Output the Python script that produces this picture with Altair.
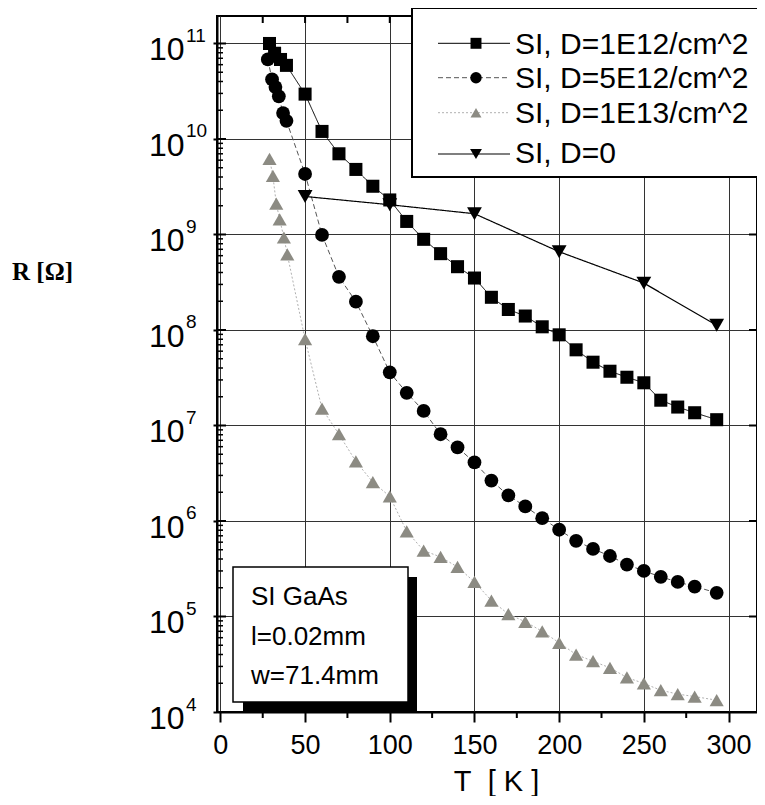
import altair as alt
import pandas as pd

# ---------------- data ----------------
series_names = ["SI, D=1E12/cm^2", "SI, D=5E12/cm^2", "SI, D=1E13/cm^2", "SI, D=0"]

T_d1e12 = [29, 32, 35.5, 39, 50, 60, 70, 80, 90, 100, 110, 120, 130, 140, 150,
           160, 170, 180, 190, 200, 210, 220, 230, 240, 250, 260, 270, 280, 293]
R_d1e12 = [1.0e11, 7.9e10, 6.8e10, 5.9e10, 2.95e10, 1.2e10, 7.0e9, 4.8e9, 3.2e9,
           2.3e9, 1.37e9, 8.9e8, 6.3e8, 4.6e8, 3.5e8, 2.2e8, 1.64e8, 1.4e8,
           1.08e8, 8.9e7, 6.2e7, 4.6e7, 3.7e7, 3.2e7, 2.8e7, 1.84e7, 1.56e7,
           1.36e7, 1.15e7]

T_d5e12 = [28, 30.5, 32.5, 34.5, 37, 39, 50, 60, 70, 80, 90, 100, 110, 120, 130,
           140, 150, 160, 170, 180, 190, 200, 210, 220, 230, 240, 250, 260, 270,
           280, 293]
R_d5e12 = [6.8e10, 4.2e10, 3.5e10, 2.8e10, 1.87e10, 1.55e10, 4.3e9, 9.9e8, 3.6e8,
           1.98e8, 8.6e7, 3.6e7, 2.2e7, 1.42e7, 8.1e6, 5.9e6, 4.1e6, 2.65e6,
           1.85e6, 1.42e6, 1.07e6, 8.1e5, 6.2e5, 5.1e5, 4.3e5, 3.5e5, 3.0e5,
           2.6e5, 2.3e5, 2.06e5, 1.77e5]

T_d1e13 = [29, 31, 33, 35, 37.5, 39.5, 50, 60, 70, 80, 90, 100, 110, 120, 130,
           140, 150, 160, 170, 180, 190, 200, 210, 220, 230, 240, 250, 260, 270,
           280, 293]
R_d1e13 = [6.2e9, 4.1e9, 2.1e9, 1.44e9, 9.3e8, 6.2e8, 8.0e7, 1.5e7, 8.1e6, 4.2e6,
           2.55e6, 1.81e6, 7.8e5, 4.9e5, 4.2e5, 3.3e5, 2.3e5, 1.47e5, 1.06e5,
           8.8e4, 7.0e4, 5.3e4, 4.0e4, 3.4e4, 2.9e4, 2.3e4, 1.99e4, 1.69e4,
           1.54e4, 1.45e4, 1.33e4]

T_d0 = [50, 100, 150, 200, 250, 293]
R_d0 = [2.5e9, 2.05e9, 1.65e9, 6.6e8, 3.1e8, 1.12e8]

x_tick_values = [0, 50, 100, 150, 200, 250, 300]
x_minor_values = [25, 75, 125, 175, 225, 275]
x_top_values = [25, 50, 75, 100, 125, 150, 175, 200, 225, 250, 275, 300]
y_decades = [1e4, 1e5, 1e6, 1e7, 1e8, 1e9, 1e10, 1e11]
y_mantissa = ["10"] * 8
y_exponents = ["4", "5", "6", "7", "8", "9", "10", "11"]
y_minor = [k * 10.0 ** d for d in range(4, 11) for k in range(2, 10)]
box_lines = ["SI GaAs", "l=0.02mm", "w=71.4mm"]
x_title = "T\u00a0\u00a0[ K ]"
y_title = "R [Ω]"

# ---------------- layout ----------------
W, H = 540, 696
xscale = alt.Scale(domain=[-2, 316.8], nice=False, zero=False)
yscale = alt.Scale(type="log", domain=[1e4, 1.94e11], nice=False)

FONT = "Liberation Sans"

xaxis = alt.Axis(values=x_tick_values, grid=True, gridColor="#333", gridWidth=1,
                 domain=True, domainColor="black", domainWidth=2,
                 ticks=True, tickSize=10, tickWidth=2, tickColor="black",
                 labelFont=FONT, labelFontSize=27, labelColor="black",
                 labelPadding=10, labelFlush=False,
                 title=x_title, titleFont=FONT, titleFontSize=29,
                 titleFontWeight="normal", titleColor="black",
                 titleX=279, titleY=78, titleBaseline="alphabetic",
                 titleAlign="center")
yaxis = alt.Axis(values=y_decades, grid=True, gridColor="#333", gridWidth=1,
                 labels=False, domain=True, domainColor="black", domainWidth=2,
                 ticks=True, tickSize=4, tickWidth=2, tickColor="black",
                 title="")


def X(field):
    return alt.X(field, type="quantitative", scale=xscale, axis=xaxis)


def Y(field):
    return alt.Y(field, type="quantitative", scale=yscale, axis=yaxis)


styles = [
    dict(shape="square", fill="black", size=170, lc="black", dash=[1, 0], lw=1.0, lsize=120),
    dict(shape="circle", fill="black", size=190, lc="#555", dash=[5, 3], lw=1.0, lsize=130),
    dict(shape="triangle-up", fill="#8c8b83", size=200, lc="#b0b0b0", dash=[2, 2], lw=1.0, lsize=120),
    dict(shape="triangle-down", fill="black", size=220, lc="black", dash=[1, 0], lw=1.2, lsize=140),
]
series_data = [(T_d1e12, R_d1e12), (T_d5e12, R_d5e12), (T_d1e13, R_d1e13), (T_d0, R_d0)]

layers = []

# inward / minor ticks
ymin_df = pd.DataFrame({"v": y_minor})
ydec_df = pd.DataFrame({"v": y_decades})
layers.append(alt.Chart(ymin_df).mark_rule(color="black", strokeWidth=1.5).encode(
    x=alt.value(0), x2=alt.value(6), y=Y("v")))
layers.append(alt.Chart(ydec_df).mark_rule(color="black", strokeWidth=2).encode(
    x=alt.value(0), x2=alt.value(9), y=Y("v")))
layers.append(alt.Chart(ydec_df).mark_rule(color="black", strokeWidth=2).encode(
    x=alt.value(W - 8), x2=alt.value(W), y=Y("v")))
layers.append(alt.Chart(pd.DataFrame({"v": x_top_values})).mark_rule(color="black", strokeWidth=2).encode(
    x=X("v"), y=alt.value(0), y2=alt.value(7)))
layers.append(alt.Chart(pd.DataFrame({"v": x_minor_values})).mark_rule(color="black", strokeWidth=2).encode(
    x=X("v"), y=alt.value(H), y2=alt.value(H + 6)))

# data lines and markers
for (T, R), st in zip(series_data, styles):
    df = pd.DataFrame({"v": T, "r": R})
    layers.append(alt.Chart(df).mark_line(color=st["lc"], strokeWidth=st["lw"],
                                          strokeDash=st["dash"]).encode(x=X("v"), y=Y("r")))
for (T, R), st in zip(series_data, styles):
    df = pd.DataFrame({"v": T, "r": R})
    layers.append(alt.Chart(df).mark_point(shape=st["shape"], filled=True, size=st["size"],
                                           color=st["fill"], opacity=1).encode(x=X("v"), y=Y("r")))

one = pd.DataFrame({"k": [0]})

# SI GaAs info box with shadow
layers.append(alt.Chart(one).mark_rect(color="black").encode(
    x=alt.value(26), x2=alt.value(200), y=alt.value(561), y2=alt.value(H)))
layers.append(alt.Chart(one).mark_rect(fill="white", stroke="black", strokeWidth=1.5).encode(
    x=alt.value(16), x2=alt.value(191), y=alt.value(551), y2=alt.value(686)))
for txt, yy in zip(box_lines, [589, 629, 668]):
    layers.append(alt.Chart(pd.DataFrame({"t": [txt]})).mark_text(
        font=FONT, fontSize=26, align="left", baseline="alphabetic", color="black").encode(
        x=alt.value(34), y=alt.value(yy), text="t:N"))

# legend box
layers.append(alt.Chart(one).mark_rect(fill="white", stroke="black", strokeWidth=2).encode(
    x=alt.value(195), x2=alt.value(W + 20), y=alt.value(-8), y2=alt.value(161)))
sym_y = [27.3, 61.7, 96.7, 138]
txt_y = [38.3, 72.3, 107.3, 147.3]
for name, st, sy, ty in zip(series_names, styles, sym_y, txt_y):
    layers.append(alt.Chart(one).mark_rule(color=st["lc"], strokeWidth=st["lw"],
                                           strokeDash=st["dash"]).encode(
        x=alt.value(221), x2=alt.value(293), y=alt.value(sy)))
    layers.append(alt.Chart(one).mark_point(shape=st["shape"], filled=True, size=st["lsize"],
                                            color=st["fill"], opacity=1).encode(
        x=alt.value(259), y=alt.value(sy)))
    layers.append(alt.Chart(pd.DataFrame({"t": [name]})).mark_text(
        font=FONT, fontSize=30, align="left", baseline="alphabetic", color="black").encode(
        x=alt.value(298), y=alt.value(ty), text="t:N"))

# y tick labels 10^n
ylab_df = pd.DataFrame({"v": y_decades, "m": y_mantissa, "e": y_exponents})
layers.append(alt.Chart(ylab_df).mark_text(
    font=FONT, fontSize=32, align="left", baseline="alphabetic", dy=17,
    color="black").encode(x=alt.value(-68), y=Y("v"), text="m:N"))
layers.append(alt.Chart(ylab_df).mark_text(
    font=FONT, fontSize=19, align="left", baseline="alphabetic", dy=-1.5,
    color="black").encode(x=alt.value(-31), y=Y("v"), text="e:N"))

# y title
layers.append(alt.Chart(pd.DataFrame({"t": [y_title]})).mark_text(
    font="Liberation Serif", fontWeight="bold", fontSize=25, align="right",
    baseline="alphabetic", color="black").encode(
    x=alt.value(-144), y=alt.value(264), text="t:N"))

chart = alt.layer(*layers).properties(
    width=W, height=H,
    autosize=alt.AutoSizeParams(type="none"),
    padding={"left": 209, "top": 8, "right": 0, "bottom": 84},
).configure_view(stroke="black", strokeWidth=2)

chart.save("out.html", embed_options={"renderer": "svg", "actions": False})
